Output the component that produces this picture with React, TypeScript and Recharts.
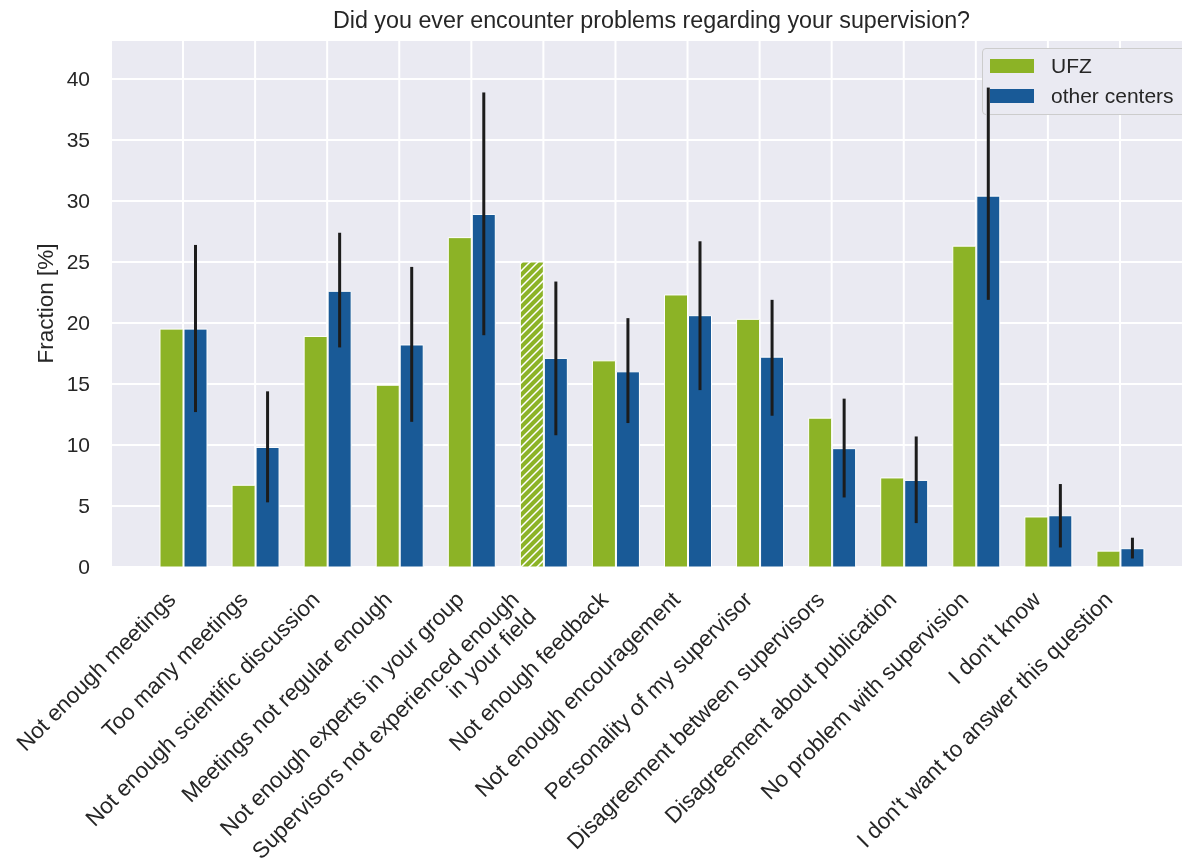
import {
  Bar,
  BarChart,
  CartesianGrid,
  Cell,
  ErrorBar,
  Legend,
  XAxis,
  YAxis,
} from "recharts";

const FONT = '"Liberation Sans", Arial, sans-serif';
const TEXT = "#262626";
const GREEN = "#8CB326";
const BLUE = "#195A97";
const PANEL = "#EAEAF2";

const categories = [
  "Not enough meetings",
  "Too many meetings",
  "Not enough scientific discussion",
  "Meetings not regular enough",
  "Not enough experts in your group",
  "Supervisors not experienced enough\nin your field",
  "Not enough feedback",
  "Not enough encouragement",
  "Personality of my supervisor",
  "Disagreement between supervisors",
  "Disagreement about publication",
  "No problem with supervision",
  "I don't know",
  "I don't want to answer this question",
];

const ufzValues = [19.5, 6.7, 18.9, 14.9, 27.0, 25.0, 16.9, 22.3, 20.3, 12.2, 7.3, 26.3, 4.1, 1.3];
const otherValues = [19.5, 9.8, 22.6, 18.2, 28.9, 17.1, 16.0, 20.6, 17.2, 9.7, 7.1, 30.4, 4.2, 1.5];
// lower / upper ends of the error bars on "other centers"
const otherLow = [12.7, 5.3, 18.0, 11.9, 19.0, 10.8, 11.8, 14.5, 12.4, 5.7, 3.6, 21.9, 1.6, 0.7];
const otherHigh = [26.4, 14.4, 27.4, 24.6, 38.9, 23.4, 20.4, 26.7, 21.9, 13.8, 10.7, 39.3, 6.8, 2.4];
// UFZ bars drawn hatched
const hatchedUfz = [5];

const yTicks = [0, 5, 10, 15, 20, 25, 30, 35, 40];

const data = categories.map((label, i) => ({
  label,
  ufz: ufzValues[i],
  other: otherValues[i],
  otherErr: [otherValues[i] - otherLow[i], otherHigh[i] - otherValues[i]],
}));

function XTick(props: any) {
  const { x, y, payload } = props;
  const lines = String(payload.value).split("\n");
  const lineHeight = 24;
  const shift = (lines.length - 1) * lineHeight * 0.707;
  return (
    <g transform={`translate(${x - 6 - shift},${y + 34})`}>
      <text
        transform="rotate(-45)"
        textAnchor="end"
        fontSize={22.5}
        fontFamily={FONT}
        fill={TEXT}
      >
        {lines.map((line, i) => (
          <tspan key={i} x={0} dy={i === 0 ? 0 : lineHeight}>
            {line}
          </tspan>
        ))}
      </text>
    </g>
  );
}

function YLabel(props: any) {
  const vb = props.viewBox ?? { y: 40, height: 527 };
  const cy = vb.y + vb.height / 2;
  const x = 53;
  return (
    <text
      x={x}
      y={cy}
      transform={`rotate(-90 ${x} ${cy})`}
      textAnchor="middle"
      fontSize={22.5}
      fontFamily={FONT}
      fill={TEXT}
    >
      Fraction [%]
    </text>
  );
}

function LegendBox(props: any) {
  const items = props.payload ?? [];
  return (
    <div
      style={{
        boxSizing: "border-box",
        height: 67,
        border: "1px solid #CCCCCC",
        borderRadius: 4,
        background: PANEL,
        paddingTop: 2,
        fontFamily: FONT,
        fontSize: 21,
        color: TEXT,
      }}
    >
      {items.map((item: any) => (
        <div
          key={item.value}
          style={{ display: "flex", alignItems: "center", height: 30 }}
        >
          <span
            style={{
              display: "inline-block",
              boxSizing: "border-box",
              width: 46,
              height: 16,
              marginLeft: 6,
              marginRight: 16,
              background: item.color,
              border: "1px solid #fff",
            }}
          />
          <span>{item.value}</span>
        </div>
      ))}
    </div>
  );
}

export default function App() {
  return (
    <div
      style={{
        position: "absolute",
        left: 0,
        top: 0,
        width: 1182,
        height: 865,
        overflow: "hidden",
        background: "#fff",
      }}
    >
      <svg width={0} height={0} style={{ position: "absolute" }}>
        <defs>
          <pattern id="ufz-hatch" patternUnits="userSpaceOnUse" width={8} height={8}>
            <rect width={8} height={8} fill={GREEN} />
            <path d="M-2,2 l4,-4 M0,8 l8,-8 M6,10 l4,-4" stroke="#fff" strokeWidth={1.5} />
          </pattern>
        </defs>
      </svg>
      <div
        style={{
          position: "absolute",
          left: 111,
          width: 1081,
          top: 8.5,
          textAlign: "center",
          fontFamily: FONT,
          fontSize: 23.3,
          lineHeight: "23px",
          color: TEXT,
        }}
      >
        Did you ever encounter problems regarding your supervision?
      </div>
      <BarChart
        width={1200}
        height={865}
        data={data}
        margin={{ top: 40, right: 8, bottom: 0, left: 0 }}
        barGap={1}
        barSize={23}
      >
        <CartesianGrid fill={PANEL} stroke="#fff" strokeWidth={2} />
        <XAxis
          dataKey="label"
          type="category"
          height={298}
          padding={{ left: 36, right: 36 }}
          axisLine={false}
          tickLine={false}
          tickSize={0}
          tickMargin={0}
          interval={0}
          tick={<XTick />}
        />
        <YAxis
          type="number"
          width={111}
          domain={[0, 43.2]}
          ticks={yTicks}
          axisLine={false}
          tickLine={false}
          tickSize={0}
          tickMargin={21}
          tick={{ fontSize: 21, fontFamily: FONT, fill: TEXT }}
          label={{ value: "Fraction [%]", content: YLabel }}
        />
        <Legend
          layout="vertical"
          align="center"
          verticalAlign="middle"
          content={<LegendBox />}
          wrapperStyle={{
            left: 982,
            top: 48,
            width: 215,
            height: 67,
            mixBlendMode: "darken",
          }}
        />
        <Bar
          dataKey="ufz"
          name="UFZ"
          fill={GREEN}
          stroke="#fff"
          strokeWidth={1}
          isAnimationActive={false}
        >
          {data.map((_, i) => (
            <Cell key={i} fill={hatchedUfz.includes(i) ? "url(#ufz-hatch)" : GREEN} />
          ))}
        </Bar>
        <Bar
          dataKey="other"
          name="other centers"
          fill={BLUE}
          stroke="#fff"
          strokeWidth={1}
          isAnimationActive={false}
        >
          <ErrorBar
            dataKey="otherErr"
            direction="y"
            width={0}
            stroke="#1c1c1c"
            strokeWidth={3}
            isAnimationActive={false}
          />
        </Bar>
      </BarChart>
    </div>
  );
}
